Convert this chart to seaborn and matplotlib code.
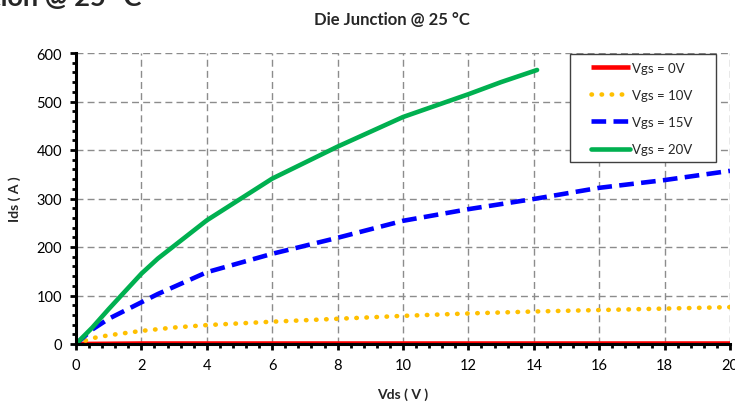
import matplotlib
matplotlib.use("Agg")
import matplotlib.pyplot as plt
from matplotlib.ticker import MultipleLocator
from matplotlib.patches import Rectangle
import seaborn as sns
import pandas as pd

sns.set_style("white")
plt.rcParams['font.family'] = ['Lato', 'DejaVu Sans']

# Vgs = 0V
vds_0 = [0, 2, 4, 6, 8, 10, 12, 14, 16, 18, 20]
ids_0 = [0, 1, 1, 1, 1, 1, 1, 1, 1, 1, 1]
# Vgs = 10V
vds_10 = [0, 0.5, 1, 2, 3, 4, 6, 8, 10, 12, 14, 16, 18, 20]
ids_10 = [0, 12, 18, 27, 34, 39, 46, 52, 58, 63, 67, 70, 73, 76]
# Vgs = 15V
vds_15 = [0, 0.5, 1, 2, 2.5, 4, 6, 8, 10, 12, 14, 16, 18, 20]
ids_15 = [0, 30, 52, 86, 103, 148, 186, 219, 254, 278, 299, 322, 338, 357]
# Vgs = 20V
vds_20 = [0, 0.5, 1, 2, 2.5, 4, 6, 8, 10, 12, 13, 14.1]
ids_20 = [0, 34, 72, 145, 176, 255, 341, 407, 468, 515, 540, 565]

labels = ["Vgs = 0V", "Vgs = 10V", "Vgs = 15V", "Vgs = 20V"]
colors = ["#ff0000", "#ffc000", "#0000ff", "#00b050"]

fig = plt.figure(figsize=(7.35, 4.06), dpi=100)
ax = fig.add_axes([76/735, 1-345/406, 654/735, 291/406])

series = [(vds_0, ids_0), (vds_10, ids_10), (vds_15, ids_15), (vds_20, ids_20)]
for (x, y), lab, c in zip(series, labels, colors):
    df = pd.DataFrame({"Vds": x, "Ids": y})
    sns.lineplot(data=df, x="Vds", y="Ids", ax=ax, color=c, label=lab, lw=3.3)

lines = ax.get_lines()
lines[1].set_linestyle((0, (0.1, 2.1)))
lines[1].set_dash_capstyle("round")
lines[2].set_linestyle((0, (3.2, 1.6)))
lines[0].set_solid_capstyle("butt")

ax.set_xlim(0, 20)
ax.set_ylim(0, 600)
ax.xaxis.set_major_locator(MultipleLocator(2))
ax.xaxis.set_minor_locator(MultipleLocator(0.4))
ax.yaxis.set_major_locator(MultipleLocator(100))
ax.yaxis.set_minor_locator(MultipleLocator(20))
ax.grid(True, which="major", color="#8c8c8c", linestyle=(0, (5, 3)), lw=1)
ax.set_axisbelow(True)
for s in ["top", "right"]:
    ax.spines[s].set_visible(False)
for s in ["left", "bottom"]:
    ax.spines[s].set_color("black")
    ax.spines[s].set_linewidth(2.2)
ax.tick_params(which="major", direction="out", length=4, width=2, labelsize=10.5, colors="black", pad=6)
ax.tick_params(which="minor", direction="out", length=3, width=2, colors="black", left=True, bottom=True)
ax.tick_params(which="major", left=True, bottom=True)

ax.set_xlabel("Vds ( V )", fontsize=10, fontweight="bold", labelpad=11)
ax.set_ylabel("Ids ( A )", fontsize=10, fontweight="bold", labelpad=11)
fig.text(392/735, 1-20/406, "Die Junction @ 25 °C", fontsize=12, fontweight="bold",
         ha="center", va="center")

# title of the chart above, cut by the picture edge
fig.text(141/735, 1-6/406, "Die Junction @ 25 °C", fontsize=19.5, fontweight="bold",
         ha="right", va="baseline")

leg = ax.legend(loc="upper left", bbox_to_anchor=(0.777, 0.993), fontsize=9.5, handlelength=3.0,
                handletextpad=0.1, labelspacing=1.15, borderpad=0, frameon=False)
ax.add_patch(Rectangle((0.755, 0.625), 0.224, 0.372, transform=ax.transAxes, fill=True,
                       facecolor="white", edgecolor="#404040", lw=1, zorder=4.5))
leg.set_zorder(6)

fig.savefig("out.png", dpi=100)
